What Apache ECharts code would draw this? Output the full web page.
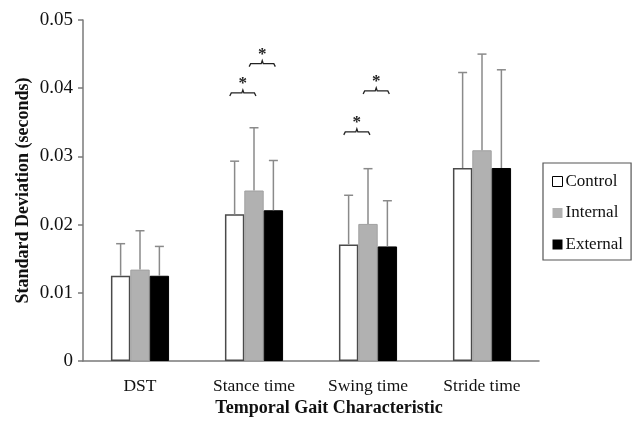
<!DOCTYPE html>
<html><head><meta charset="utf-8">
<script src="https://cdn.jsdelivr.net/npm/echarts@6/dist/echarts.min.js"></script>
<style>html,body{margin:0;padding:0;background:#fff}#c{width:641px;height:422px}</style>
</head><body><div id="c"></div>
<script>
const categories = ['DST', 'Stance time', 'Swing time', 'Stride time'];
const seriesNames = ['Control', 'Internal', 'External'];
const controlMean = [0.0125, 0.0215, 0.0171, 0.0283];
const internalMean = [0.0134, 0.0250, 0.0201, 0.0309];
const externalMean = [0.0125, 0.0221, 0.0168, 0.0283];
const controlSD = [0.0047, 0.0078, 0.0072, 0.0140];
const internalSD = [0.0057, 0.0092, 0.0081, 0.0141];
const externalSD = [0.0043, 0.0073, 0.0067, 0.0144];
const yTickLabels = ['0', '0.01', '0.02', '0.03', '0.04', '0.05'];
// significance brackets: [category index, from group, to group, y value]
const brackets = [[1, 0, 1, 0.0393], [1, 1, 2, 0.0436], [2, 0, 1, 0.0336], [2, 1, 2, 0.0396]];

const FONT = "'Liberation Serif', 'Times New Roman', serif";
const GAP = 0.49;
const means = [controlMean, internalMean, externalMean];
const sds = [controlSD, internalSD, externalSD];
const barStyles = [
  {color: '#ffffff', borderColor: '#4a4a4a', borderWidth: 1.5},
  {color: '#b1b1b1', borderColor: '#a0a0a0', borderWidth: 1},
  {color: '#000000', borderColor: '#000000', borderWidth: 1}
];
const legendStyles = [
  {color: '#ffffff', borderColor: '#000', borderWidth: 1},
  {color: '#b1b1b1', borderWidth: 0},
  {color: '#000000', borderWidth: 0}
];

const chart = echarts.init(document.getElementById('c'), null, {renderer: 'canvas'});
const series = [];
seriesNames.forEach((n, i) => {
  series.push({
    name: n, type: 'bar', data: means[i], barGap: '0%', barCategoryGap: (GAP * 100) + '%',
    itemStyle: barStyles[i], z: 2, emphasis: {disabled: true}
  });
});
seriesNames.forEach((n, k) => {
  series.push({
    name: n + ' SD', type: 'custom', z: 3,
    data: categories.map((c, j) => [j, means[k][j], sds[k][j]]),
    renderItem: function (params, api) {
      const base = api.coord([api.value(0), api.value(1)]);
      const top = api.coord([api.value(0), api.value(1) + api.value(2)]);
      const bandW = api.size([1, 0])[0];
      const barW = bandW * (1 - GAP) / 3;
      const x = base[0] + (k - 1) * barW;
      const st = {stroke: '#8a8a8a', lineWidth: 1.5};
      return {type: 'group', children: [
        {type: 'line', shape: {x1: x, y1: base[1], x2: x, y2: top[1]}, style: st},
        {type: 'line', shape: {x1: x - 4.5, y1: top[1], x2: x + 4.5, y2: top[1]}, style: st}
      ]};
    }
  });
});
series.push({
  name: 'sig', type: 'custom', z: 4,
  data: brackets,
  renderItem: function (params, api) {
    const cat = api.value(0), a = api.value(1), b = api.value(2), yv = api.value(3);
    const p = api.coord([cat, yv]);
    const bandW = api.size([1, 0])[0];
    const barW = bandW * (1 - GAP) / 3;
    const x1 = p[0] + (a - 1) * barW - 0.25 * barW;
    const x2 = p[0] + (b - 1) * barW + 0.1 * barW;
    const y = p[1], xm = (x1 + x2) / 2;
    const st = {stroke: '#222', lineWidth: 1.3, fill: null};
    return {type: 'group', children: [
      {type: 'polyline', shape: {points: [[x1, y + 3], [x1 + 1.5, y], [xm - 1, y], [xm, y - 3], [xm + 1, y], [x2 - 1.5, y], [x2, y + 3]]}, style: st},
      {type: 'text', style: {x: xm, y: y - 9, text: '*', font: 'bold 17px ' + FONT, fill: '#222', align: 'center', verticalAlign: 'middle'}}
    ]};
  }
});

chart.setOption({
  animation: false,
  backgroundColor: '#fff',
  grid: {left: 83, right: 102, top: 20, bottom: 61},
  legend: {
    orient: 'vertical', left: 543, top: 163,
    data: seriesNames.map((n, i) => ({name: n, itemStyle: legendStyles[i]})),
    icon: 'rect', itemWidth: 10, itemHeight: 10, itemGap: 14.5,
    padding: [10, 8, 7, 9],
    borderColor: '#555', borderWidth: 1.2,
    textStyle: {fontFamily: FONT, fontSize: 17, color: '#111', padding: [0, 0, 0, -2]}
  },
  xAxis: {
    type: 'category', data: categories,
    axisLine: {lineStyle: {color: '#7a7a7a', width: 1.5}},
    axisTick: {show: false},
    axisLabel: {fontFamily: FONT, fontSize: 17.5, color: '#111', margin: 16}
  },
  yAxis: {
    type: 'value', min: 0, max: 0.05, interval: 0.01,
    name: 'Standard Deviation (seconds)', nameLocation: 'middle', nameGap: 51,
    nameMoveOverlap: false,
    nameTextStyle: {fontFamily: FONT, fontSize: 18, fontWeight: 'bold', color: '#111'},
    axisLine: {show: true, lineStyle: {color: '#7a7a7a', width: 1.5}},
    axisTick: {show: true, length: 5, lineStyle: {color: '#7a7a7a', width: 1.5}},
    splitLine: {show: false},
    axisLabel: {fontFamily: FONT, fontSize: 19, color: '#111', margin: 10,
      formatter: (v) => yTickLabels[Math.round(v / 0.01)]}
  },
  graphic: [{
    type: 'text', x: 329, y: 408,
    style: {text: 'Temporal Gait Characteristic', font: 'bold 18px ' + FONT, fill: '#111', align: 'center', verticalAlign: 'middle'}
  }],
  series: series
});
</script></body></html>
